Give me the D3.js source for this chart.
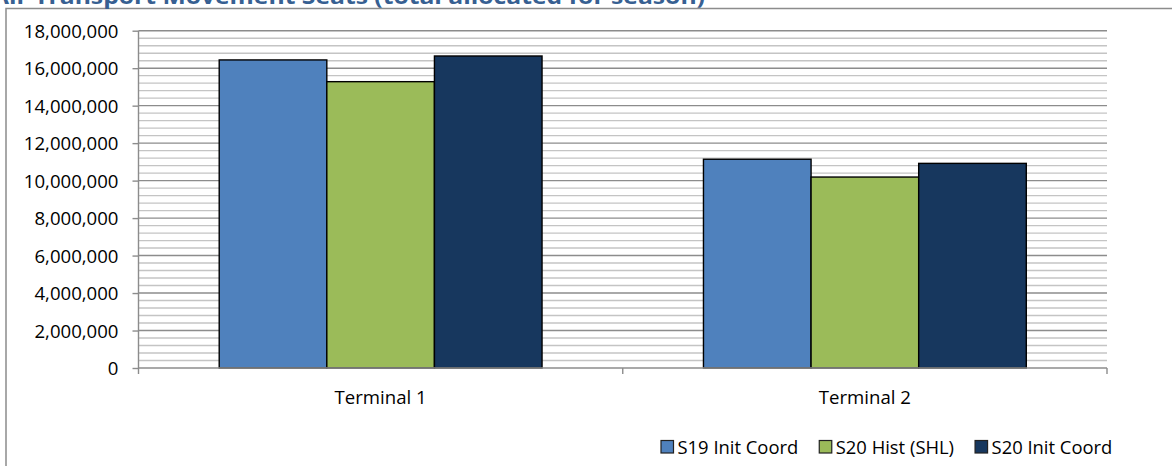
<!DOCTYPE html>
<html><head><meta charset="utf-8">
<script src="https://cdn.jsdelivr.net/npm/d3@7"></script>
<style>
html,body{margin:0;padding:0;background:#fff;overflow:hidden;}
text{font-family:"Open Sans",sans-serif;}
</style></head>
<body>
<svg id="c" width="1172" height="466"></svg>
<script>
const title = "Air Transport Movement Seats (total allocated for season)";
const categories = ["Terminal 1", "Terminal 2"];
const seriesNames = ["S19 Init Coord", "S20 Hist (SHL)", "S20 Init Coord"];
const s19InitCoord = [16440000, 11140000];
const s20HistSHL = [15280000, 10190000];
const s20InitCoord = [16650000, 10920000];
const seriesValues = [s19InitCoord, s20HistSHL, s20InitCoord];
const yMax = 18000000;
const yMajorStep = 2000000;
const yMinorStep = 400000;
const colors = ["#4F81BD", "#9BBB59", "#17375E"];

const svg = d3.select("#c");
const L = 138.5, R = 1107, T = 30.7, B = 368;

// chart border
svg.append("rect").attr("x", 6).attr("y", 8.5).attr("width", 1200).attr("height", 500)
  .attr("fill", "#fff").attr("stroke", "#8c8c8c").attr("stroke-width", 1.5);

// title
svg.append("text").attr("x", -8).attr("y", 4).text(title)
  .attr("font-size", 22).attr("font-weight", "bold").attr("fill", "#376092")
  .attr("textLength", 713).attr("lengthAdjust", "spacingAndGlyphs");

const y = d3.scaleLinear().domain([0, yMax]).range([B, T]);
const x0 = d3.scaleBand().domain(categories).range([L, R]).paddingInner(0).paddingOuter(0);
const x1 = d3.scaleBand().domain(seriesNames).range([0, x0.bandwidth()]).paddingInner(0).paddingOuter(0.75);

// minor gridlines
const minor = d3.range(0, yMax + 1, yMinorStep).filter(v => v % yMajorStep !== 0);
svg.append("g").selectAll("line").data(minor).join("line")
  .attr("x1", L).attr("x2", R).attr("y1", d => y(d)).attr("y2", d => y(d))
  .attr("stroke", "#c4c4c4").attr("stroke-width", 1.4);
// major gridlines
const major = d3.range(yMajorStep, yMax + 1, yMajorStep);
svg.append("g").selectAll("line").data(major).join("line")
  .attr("x1", L).attr("x2", R).attr("y1", d => y(d)).attr("y2", d => y(d))
  .attr("stroke", "#8c8c8c").attr("stroke-width", 1.4);

// bars
const groups = svg.append("g").selectAll("g").data(categories).join("g")
  .attr("transform", d => `translate(${x0(d)},0)`);
groups.selectAll("rect").data((c, ci) => seriesNames.map((s, si) => ({s, si, v: seriesValues[si][ci]})))
  .join("rect")
  .attr("x", d => x1(d.s)).attr("width", x1.bandwidth())
  .attr("y", d => y(d.v)).attr("height", d => B - y(d.v))
  .attr("fill", d => colors[d.si]).attr("stroke", "#000").attr("stroke-width", 1.4);

// y axis
const yAxis = d3.axisLeft(y).tickValues(d3.range(0, yMax + 1, yMajorStep))
  .tickFormat(d3.format(",")).tickSize(6).tickPadding(14);
const gy = svg.append("g").attr("transform", `translate(${L},0)`).call(yAxis);
gy.select(".domain").attr("stroke", "#8c8c8c").attr("stroke-width", 1.4).attr("d", `M0,${T}V${B}`);
gy.selectAll(".tick line").attr("stroke", "#8c8c8c").attr("stroke-width", 1.4);
gy.selectAll(".tick text").attr("font-size", 18.6).attr("fill", "#000")
  .attr("font-family", "Open Sans").attr("dy", "0.36em");

// x axis
const gx = svg.append("g");
gx.append("line").attr("x1", L).attr("x2", R).attr("y1", B).attr("y2", B)
  .attr("stroke", "#8c8c8c").attr("stroke-width", 1.4);
const bounds = categories.map(c => x0(c)).concat([x0(categories[categories.length - 1]) + x0.bandwidth()]);
gx.selectAll("line.t").data(bounds).join("line").attr("class", "t")
  .attr("x1", d => d).attr("x2", d => d).attr("y1", B).attr("y2", B + 6)
  .attr("stroke", "#8c8c8c").attr("stroke-width", 1.4);
gx.selectAll("text").data(categories).join("text")
  .attr("x", d => x0(d) + x0.bandwidth() / 2).attr("y", 404)
  .attr("text-anchor", "middle").attr("font-size", 18.6).attr("fill", "#000").text(d => d);

// legend
const lg = svg.append("g");
let lx = 661;
seriesNames.forEach((s, i) => {
  lg.append("rect").attr("x", lx).attr("y", 440.5).attr("width", 12.5).attr("height", 12.5)
    .attr("fill", colors[i]).attr("stroke", "#222").attr("stroke-width", 1.2);
  const t = lg.append("text").attr("x", lx + 16.5).attr("y", 453.5)
    .attr("font-size", 18.4).attr("fill", "#000").text(s);
  lx += 16.5 + t.node().getComputedTextLength() + 21;
});
</script>
</body></html>
